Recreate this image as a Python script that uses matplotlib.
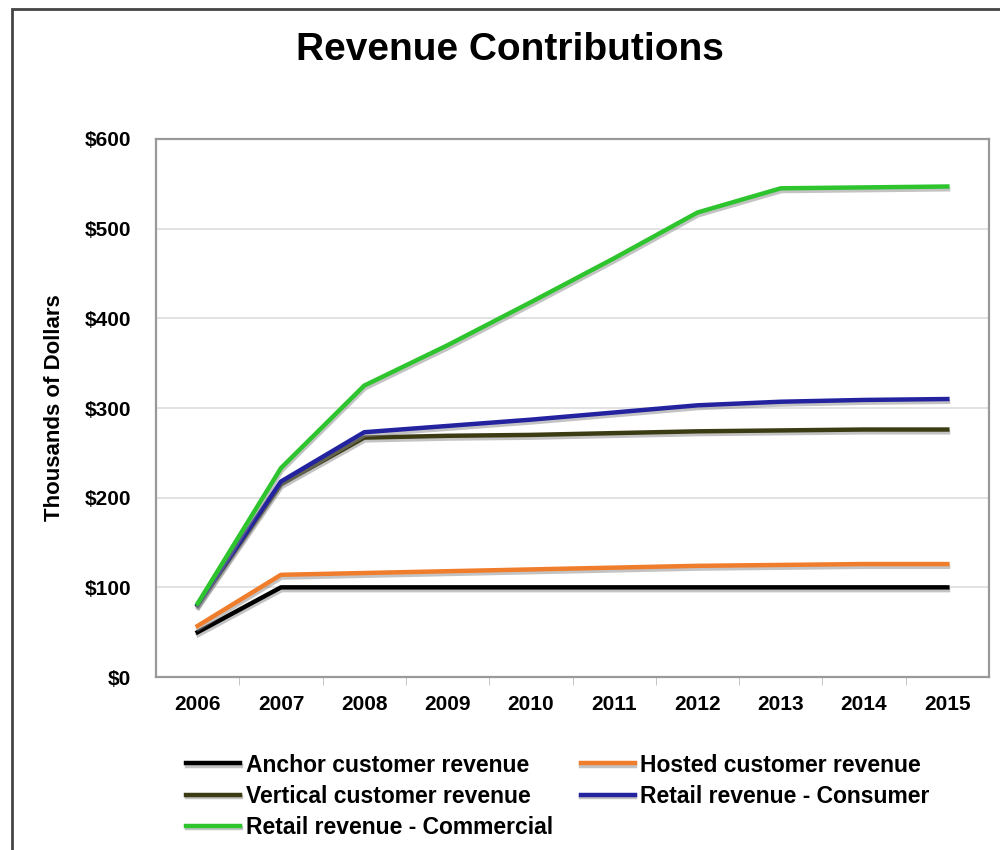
import numpy as np
import matplotlib
matplotlib.use("Agg")
from matplotlib import pyplot as plt
from matplotlib import patheffects as pe
from matplotlib.patches import Rectangle
from matplotlib.ticker import FuncFormatter

plt.rcParams['font.family'] = ['Liberation Sans', 'DejaVu Sans']
plt.rcParams['font.weight'] = 'bold'

years = ['2006', '2007', '2008', '2009', '2010', '2011', '2012', '2013', '2014', '2015']

anchor = [50, 100, 100, 100, 100, 100, 100, 100, 100, 100]
hosted = [57, 114, 116, 118, 120, 122, 124, 125, 126, 126]
vertical = [80, 215, 267, 269, 270, 272, 274, 275, 276, 276]
consumer = [81, 218, 273, 280, 287, 295, 303, 307, 309, 310]
commercial = [82, 233, 325, 370, 418, 467, 518, 545, 546, 547]

series = [
    ('Anchor customer revenue', anchor, '#000000'),
    ('Hosted customer revenue', hosted, '#ef7d2c'),
    ('Vertical customer revenue', vertical, '#3c3c14'),
    ('Retail revenue - Consumer', consumer, '#2323a0'),
    ('Retail revenue - Commercial', commercial, '#2ec42e'),
]

fig = plt.figure(figsize=(10, 8.5), dpi=100)
ax = fig.add_axes([0.156, 0.2035, 0.833, 0.633])

x = np.arange(len(years))
shadow = [pe.SimpleLineShadow(offset=(0.5, -2), shadow_color='#888888', alpha=0.5),
          pe.Normal()]
lines = {}
for name, vals, color in series:
    ln, = ax.plot(x, vals, color=color, lw=3.2, label=name,
                  solid_joinstyle='round', path_effects=shadow)
    lines[name] = ln

ax.set_xlim(-0.5, len(years) - 0.5)
ax.set_ylim(0, 600)
ax.set_yticks(np.arange(0, 601, 100))
ax.yaxis.set_major_formatter(FuncFormatter(lambda v, p: f'${v:.0f}'))
ax.set_xticks(x)
ax.set_xticklabels(years)
ax.set_xticks(np.arange(0.5, len(years) - 1, 1), minor=True)
ax.tick_params(axis='x', which='major', length=0, pad=13, labelsize=15)
ax.tick_params(axis='x', which='minor', length=6, color='#bbbbbb', direction='out')
ax.tick_params(axis='y', length=0, pad=18, labelsize=15)
ax.grid(axis='y', color='#dddddd', lw=1.2)
ax.set_axisbelow(True)
for side in ['left', 'bottom', 'right', 'top']:
    ax.spines[side].set_color('#999999')
    ax.spines[side].set_linewidth(1.6)

ax.set_ylabel('Thousands of Dollars', fontsize=16, fontweight='bold', labelpad=14)
fig.text(0.51, 0.941, 'Revenue Contributions', ha='center', va='center',
         fontsize=28, fontweight='bold')

order = ['Anchor customer revenue', 'Vertical customer revenue', 'Retail revenue - Commercial',
         'Hosted customer revenue', 'Retail revenue - Consumer']
fig.legend([lines[n] for n in order], order, ncol=2, frameon=False,
           loc='upper left', bbox_to_anchor=(0.175, 0.127), fontsize=16.5,
           handlelength=2.35, handletextpad=0.25, columnspacing=1.2,
           labelspacing=0.35, borderpad=0)

# outer chart frame
fig.patches.append(Rectangle((0.012, -0.05), 1.05, 1.04, transform=fig.transFigure,
                             fill=False, edgecolor='#444444', lw=2))

fig.savefig('out.png', dpi=100)
